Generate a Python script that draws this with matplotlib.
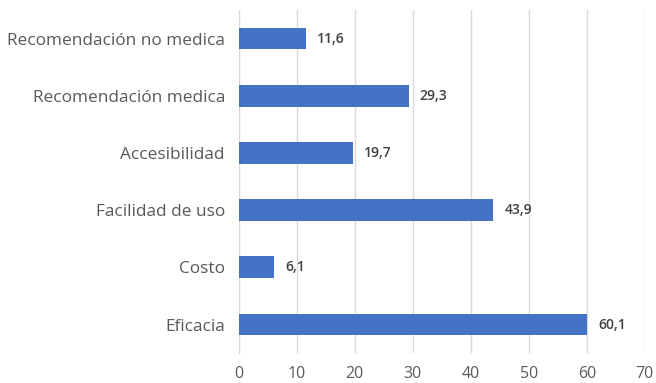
import matplotlib
matplotlib.use("Agg")
import matplotlib.pyplot as plt

categories = ["Eficacia", "Costo", "Facilidad de uso", "Accesibilidad",
              "Recomendación medica", "Recomendación no medica"]
values = [60.1, 6.1, 43.9, 19.7, 29.3, 11.6]
xticks = [0, 10, 20, 30, 40, 50, 60, 70]

plt.rcParams['font.family'] = ['Open Sans', 'DejaVu Sans']

fig = plt.figure(figsize=(6.56, 3.83), dpi=100)
ax = fig.add_axes([0.364, 0.078, 0.619, 0.896])

y = list(range(len(categories)))
ax.barh(y, values, height=0.38, color="#4472C4", zorder=3)
for yi, v in zip(y, values):
    ax.text(v + 1.9, yi, f"{v:.1f}".replace(".", ","), va="center", ha="left",
            fontsize=10, color="#404040", fontweight="semibold")

ax.set_xlim(0, 70)
ax.set_ylim(-0.5, len(categories) - 0.5)
ax.set_xticks(xticks)
ax.set_xticklabels([str(t) for t in xticks])
ax.set_yticks(y)
ax.set_yticklabels(categories)
ax.tick_params(axis="both", length=0, colors="#595959")
ax.tick_params(axis="x", pad=9, labelsize=11.5)
ax.tick_params(axis="y", pad=10, labelsize=12.4)
ax.grid(axis="x", color="#D9D9D9", linewidth=1, zorder=0)
for s in ["top", "right", "bottom"]:
    ax.spines[s].set_visible(False)
ax.spines["left"].set_color("#D9D9D9")
ax.spines["left"].set_zorder(1)

fig.savefig("out.png", dpi=100)
